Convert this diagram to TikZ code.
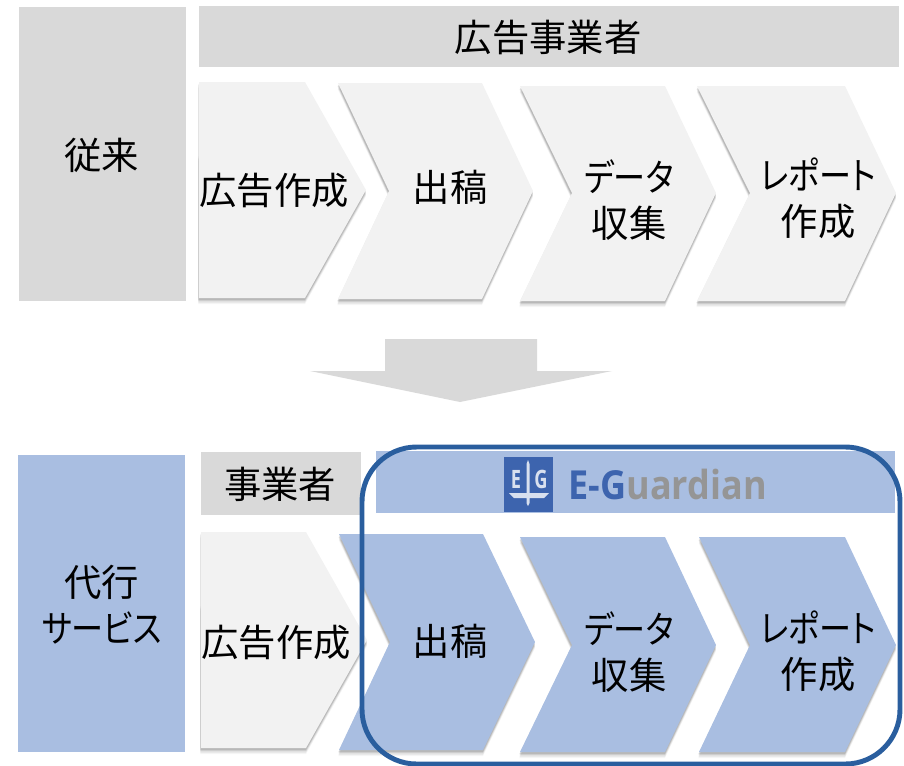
\documentclass[tikz,border=0pt]{standalone}
\usepackage{fontspec}
\newfontfamily\jpfont{Noto Sans CJK JP}
\newfontfamily\kanafont[RawFeature={+palt},FakeStretch=0.86]{Noto Sans CJK JP}
\newfontfamily\logofont[FakeStretch=0.9]{Open Sans}
\newfontfamily\logomark[FakeStretch=0.72]{Open Sans}
\definecolor{hdrgray}{HTML}{D9D9D9}
\definecolor{chevgray}{HTML}{F2F2F2}
\definecolor{paleblue}{HTML}{A9BEE1}
\definecolor{framebl}{HTML}{2A5E9E}
\definecolor{logobl}{HTML}{3D64AE}
\definecolor{logogr}{HTML}{959595}
\newcommand{\chev}[8]{% fill, left, topy, shoulder, tip, notch, boty, midy
  \foreach \oo/\ss in {1.8/.10,3.2/.10,4.6/.07,6/.04}{
    \fill[black,opacity=\ss] (#2-.3,#3+\oo) -- (#4,#3+\oo) -- (#5,#8+\oo) -- (#4,#7+\oo) -- (#2-.6,#7+\oo) -- (#6-.6,#8+\oo) -- cycle;
  }
  \fill[#1] (#2,#3) -- (#4,#3) -- (#5,#8) -- (#4,#7) -- (#2,#7) -- (#6,#8) -- cycle;
}
\tikzset{
  lab/.style={font=\jpfont\fontsize{28}{34.5}\selectfont,text=black,align=center,inner sep=0pt},
  logochar/.style={inner sep=0pt,text=white!80!logobl,font=\logomark\bfseries\fontsize{19}{19}\selectfont},
}
\begin{document}
\begin{tikzpicture}[x=0.75pt,y=-0.75pt]
\useasboundingbox (0,0) rectangle (904,765);
% top row
\fill[hdrgray] (19,7) rectangle (186,301);
\fill[hdrgray] (199,6) rectangle (899,67);
\node[lab] (conv) at (102,155) {従来};
\node[lab] (hdrtop) at (548,37) {広告事業者};
\chev{chevgray}{199}{82}{305}{366}{199}{298}{190}
\chev{chevgray}{338}{83}{482}{533}{389}{299}{191}
\chev{chevgray}{520}{86}{665}{716}{572}{301}{193}
\chev{chevgray}{697}{86}{845}{896}{750}{301}{193}
\node[lab] (t1) at (274,190) {広告作成};
\node[lab] (t2) at (450,187) {出稿};
\node[lab] (t3) at (629,200) {{\kanafont データ}\\収集};
\node[lab] (t4) at (818,198) {{\kanafont レポート}\\作成};
% big arrow
\fill[hdrgray] (385,339) -- (537,339) -- (537,371) -- (612,371) -- (460,402) -- (310,371) -- (385,371) -- cycle;
% bottom row
\fill[paleblue] (18,455) rectangle (185,752);
\fill[hdrgray] (201,452) rectangle (361,515);
\fill[paleblue] (376,451) rectangle (895,513);
\node[lab] (agency) at (102,605) {代行\\{\kanafont サービス}};
\node[lab] (hdrbot) at (280,484) {事業者};
\chev{paleblue}{339}{534}{483}{535}{390}{750}{642}
\chev{chevgray}{201}{532}{306}{367}{201}{748}{640}
\chev{paleblue}{520}{537}{665}{716}{572}{752}{645}
\chev{paleblue}{699}{537}{845}{896}{750}{752}{645}
\node[lab] (b1) at (276,642) {広告作成};
\node[lab] (b2) at (450,641) {出稿};
\node[lab] (b3) at (629,652) {{\kanafont データ}\\収集};
\node[lab] (b4) at (818,651) {{\kanafont レポート}\\作成};
% logo
\fill[logobl] (504,457) rectangle (553,512);
\node[logochar] (logoe) at (516,479) {E};
\node[logochar] (logog) at (541,479) {G};
\fill[white!80!logobl] (526.5,464) -- (528,460) -- (529.5,464) -- (529.5,493) -- (549,493) -- (544,498) -- (529.5,498) -- (529.5,503) -- (528,506) -- (526.5,503) -- (526.5,498) -- (514,498) -- (509,493) -- (526.5,493) -- cycle;
\node[inner sep=0pt,anchor=base west,font=\logofont\bfseries\fontsize{30}{30}\selectfont] (logot) at (568.5,499) {\textcolor{logobl}{E-G}\textcolor{logogr}{uardian}};
% frame
\draw[framebl,line width=3.7pt,rounded corners=41pt] (362,447) rectangle (900,764);
\end{tikzpicture}
\end{document}
